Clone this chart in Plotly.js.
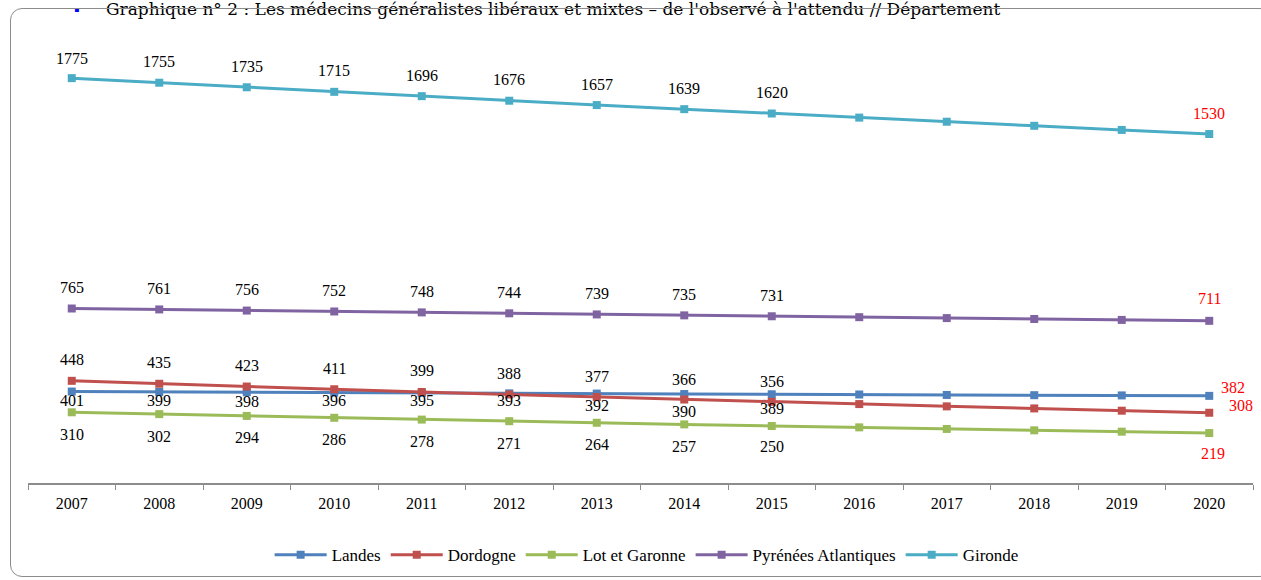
<!DOCTYPE html>
<html>
<head>
<meta charset="utf-8">
<script src="https://cdn.plot.ly/plotly-3.0.1.min.js"></script>
<style>
  html, body { margin: 0; padding: 0; background: #fff; }
  #wrap { position: relative; width: 1261px; height: 580px; overflow: hidden; }
  #chart { width: 1261px; height: 580px; }
  #frame { position: absolute; left: 10px; top: 8px; width: 1262px; height: 569px;
           border: 1px solid #8c8c8c; border-radius: 12px; pointer-events: none; box-sizing: border-box; }
</style>
</head>
<body>
<div id="wrap">
  <div id="chart"></div>
  <div id="frame"></div>
</div>
<script>
// ---- data ----
const years = ['2007','2008','2009','2010','2011','2012','2013','2014','2015','2016','2017','2018','2019','2020'];
const landes      = [401, 399, 398, 396, 395, 393, 392, 390, 389, 388, 386, 385, 384, 382];
const dordogne    = [448, 435, 423, 411, 399, 388, 377, 366, 356, 346, 336, 327, 317, 308];
const lotGaronne  = [310, 302, 294, 286, 278, 271, 264, 257, 250, 244, 237, 231, 225, 219];
const pyrenees    = [765, 761, 756, 752, 748, 744, 739, 735, 731, 727, 723, 719, 715, 711];
const gironde     = [1775, 1755, 1735, 1715, 1696, 1676, 1657, 1639, 1620, 1602, 1584, 1566, 1548, 1530];
const seriesNames = ['Landes', 'Dordogne', 'Lot et Garonne', 'Pyrénées Atlantiques', 'Gironde'];
const titleText = "Graphique n° 2 : Les médecins généralistes libéraux et mixtes – de l'observé à l'attendu // Département";

// ---- styles ----
const colors = ['#4F81BD', '#C0504D', '#9BBB59', '#8064A2', '#4BACC6'];
const serif = 'Liberation Serif, Times New Roman, serif';
const allSeries = [landes, dordogne, lotGaronne, pyrenees, gironde];
// label offsets (px, positive = up) for the labelled years 2007..2015
const labelShift = [
  [-9, -9, -9, -8, -8, -7, -12, -17, -14],
  [21, 21, 21, 21, 21, 21, 21, 20, 20],
  [-22, -22, -22, -22, -22, -22, -22, -22, -21],
  [21, 21, 21, 21, 21, 21, 21, 21, 21],
  [20, 21, 21, 21, 21, 21, 21, 21, 21]
];
// last-point (2020) label offsets [xshift, yshift]
const lastShift = [[24, 8], [32, 7], [4, -20], [0, 22], [0, 21]];

const traces = allSeries.map((vals, i) => ({
  type: 'scatter',
  mode: 'lines+markers',
  name: seriesNames[i],
  x: years,
  y: vals,
  line: { color: colors[i], width: 3 },
  marker: { symbol: 'square', size: 8, color: colors[i] },
  hoverinfo: 'x+y+name'
}));

const annotations = [];
allSeries.forEach((vals, i) => {
  for (let k = 0; k < 9; k++) {
    annotations.push({
      x: k, y: vals[k], xref: 'x', yref: 'y',
      text: String(vals[k]), showarrow: false,
      xanchor: 'center', yanchor: 'middle', yshift: labelShift[i][k],
      font: { family: serif, size: 16, color: '#000' }
    });
  }
  const last = vals.length - 1;
  annotations.push({
    x: last, y: vals[last], xref: 'x', yref: 'y',
    text: String(vals[last]), showarrow: false,
    xanchor: 'center', yanchor: 'middle',
    xshift: lastShift[i][0], yshift: lastShift[i][1],
    font: { family: serif, size: 16, color: '#FF0000' }
  });
});

// title at the top
annotations.push({
  xref: 'paper', yref: 'paper', x: 0.062, y: 1.034,
  xanchor: 'left', yanchor: 'middle', showarrow: false,
  text: titleText, font: { family: 'DejaVu Serif, serif', size: 17, color: '#000' }
});
annotations.push({
  xref: 'paper', yref: 'paper', x: 0.04, y: 1.034,
  xanchor: 'center', yanchor: 'middle', showarrow: false,
  text: '▪', font: { family: serif, size: 16, color: '#0000FF' }
});

const layout = {
  width: 1261, height: 580,
  margin: { l: 28, r: 8, t: 25, b: 96, pad: 0 },
  paper_bgcolor: '#fff', plot_bgcolor: '#fff',
  showlegend: true,
  legend: {
    orientation: 'h', x: 0.505, xanchor: 'center', y: -0.155, yanchor: 'middle',
    font: { family: serif, size: 17, color: '#000' },
    itemwidth: 52, tracegroupgap: 0
  },
  xaxis: {
    type: 'category',
    showgrid: false, zeroline: false,
    showline: true, linecolor: '#8c8c8c', linewidth: 2,
    ticks: 'outside', tickson: 'boundaries', ticklen: 5, tickcolor: '#8c8c8c', tickwidth: 1,
    ticklabelstandoff: 5,
    tickfont: { family: serif, size: 16, color: '#000' },
    range: [-0.5, 13.5]
  },
  yaxis: {
    range: [0, 2008], fixedrange: true,
    showgrid: false, zeroline: false, showline: false,
    showticklabels: false, ticks: ''
  },
  annotations: annotations
};

Plotly.newPlot('chart', traces, layout, { displayModeBar: false, staticPlot: true });
</script>
</body>
</html>
